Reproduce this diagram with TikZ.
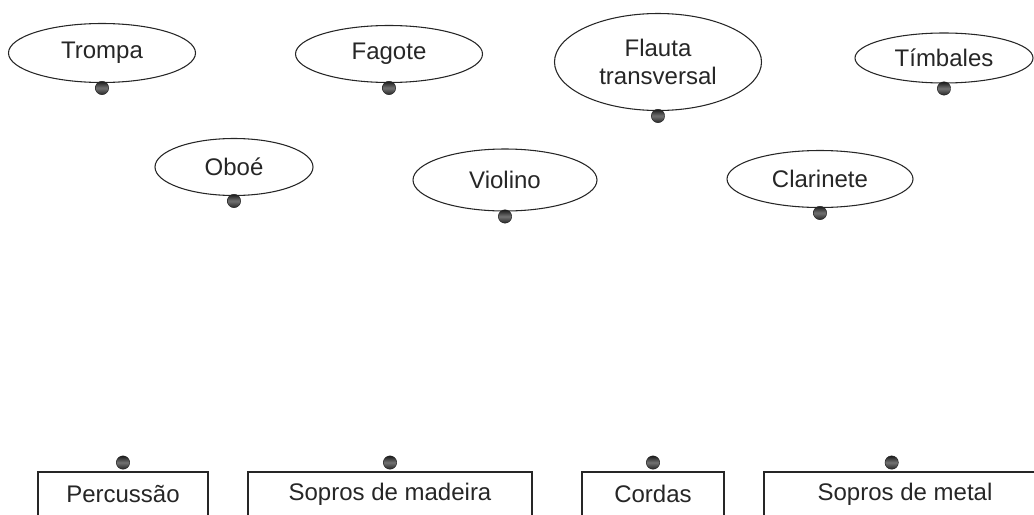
\documentclass[tikz,border=0pt]{standalone}
\usepackage{fontspec}
\setmainfont{Liberation Sans}
\usetikzlibrary{shapes,positioning}
\tikzset{
instr/.style = {draw=black!85, line width=0.8pt, ellipse, inner sep=0pt, align=center, text=black!85, font=\fontsize{18}{21.6}\selectfont},
group/.style = {draw=black!85, line width=0.8pt, rectangle, inner sep=0pt, minimum height=33pt, text=black!85, font=\fontsize{18}{21.6}\selectfont},
knob/.style  = {circle, draw=black!85, line width=0.4pt, inner sep=0pt, minimum size=10pt, top color=black!90, bottom color=black!85, middle color=black!55}
}

\begin{document}
\begin{tikzpicture}[x=0.75pt, y=-0.75pt]
  \useasboundingbox (0,0) rectangle (1034,514);
  \clip (0,0) rectangle (1034,514);

  % instrumentos
  \node [instr, minimum width=140.25pt, minimum height=44.25pt] (trompa)    at (102,53)  {Trompa};
  \node [instr, minimum width=140.25pt, minimum height=42.75pt] (fagote)    at (389,54)  {Fagote};
  \node [instr, minimum width=155.25pt, minimum height=72.75pt] (flauta)    at (658,62)  {Flauta\\transversal};
  \node [instr, minimum width=133.5pt,  minimum height=37.5pt]  (timbales)  at (944,58)  {Tímbales};
  \node [instr, minimum width=118.5pt,  minimum height=42.75pt] (oboe)      at (234,167) {Oboé};
  \node [instr, minimum width=138pt,    minimum height=46.5pt]  (violino)   at (505,180) {Violino};
  \node [instr, minimum width=139.5pt,  minimum height=42.75pt] (clarinete) at (820,179) {Clarinete};

  % familias
  \node [group, minimum width=127.5pt] (percussao) at (123,494) {Percussão};
  \node [group, minimum width=213pt]   (madeira)   at (390,494) {Sopros de madeira};
  \node [group, minimum width=106.5pt] (cordas)    at (653,494) {Cordas};
  \node [group, minimum width=211.5pt] (metal)     at (905,494) {Sopros de metal};

  \node [knob, below=-1.5pt of trompa]    (trompak)    {};
  \node [knob, below=-1.5pt of fagote]    (fagotek)    {};
  \node [knob, below=-1.5pt of flauta]    (flautak)    {};
  \node [knob, below=-1.5pt of timbales]  (timbalesk)  {};
  \node [knob, below=-1.5pt of oboe]      (oboek)      {};
  \node [knob, below=-1.5pt of violino]   (violinok)   {};
  \node [knob, below=-1.5pt of clarinete] (clarinetek) {};

  \node [knob, above=1.5pt of percussao] (percussaok) {};
  \node [knob, above=1.5pt of madeira]   (madeirak)   {};
  \node [knob, above=1.5pt of cordas]    (cordask)    {};
  \node [knob, above=1.5pt of metal, xshift=-10pt] (metalk) {};
\end{tikzpicture}
\end{document}
